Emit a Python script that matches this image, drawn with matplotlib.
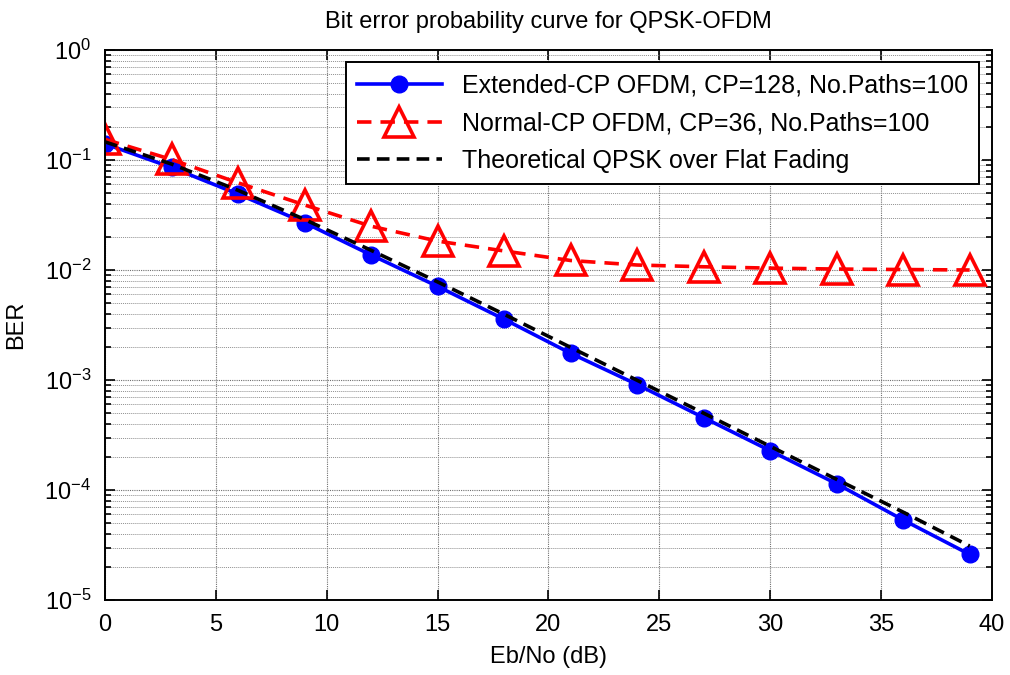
import numpy as np
import matplotlib
matplotlib.use("Agg")
import matplotlib.pyplot as plt
from matplotlib.ticker import LogLocator, MultipleLocator, NullFormatter

plt.rcParams['font.family'] = ['Liberation Sans', 'DejaVu Sans']
plt.rcParams['mathtext.default'] = 'regular'

# Eb/No points (dB)
ebNo = [0, 3, 6, 9, 12, 15, 18, 21, 24, 27, 30, 33, 36, 39]

# BER
berExt = [0.140, 0.0855, 0.049, 0.0269, 0.0137, 0.0071, 0.00357, 0.00175,
          0.00091, 0.000455, 0.000228, 0.000114, 5.35e-5, 2.6e-5]
berNor = [0.154, 0.101, 0.062, 0.039, 0.025, 0.0183, 0.0149, 0.0122,
          0.0111, 0.0107, 0.0104, 0.0102, 0.0101, 0.0100]
berTeo = [0.146, 0.0918, 0.053, 0.0288, 0.0151, 0.0078, 0.00396, 0.00198,
          0.000995, 0.0005, 0.00025, 0.000125, 6.3e-5, 3.1e-5]

labExt = 'Extended-CP OFDM, CP=128, No.Paths=100'
labNor = 'Normal-CP OFDM, CP=36, No.Paths=100'
labTeo = 'Theoretical QPSK over Flat Fading'

fig = plt.figure(figsize=(10.1, 6.75), dpi=100)
ax = fig.add_axes([0.104, 0.111, 0.878, 0.815])

ax.semilogy(ebNo, berExt, '-o', color='#0000ff', lw=2.6, ms=12, label=labExt)
ax.semilogy(ebNo, berNor, '--^', color='#ff0000', lw=2.6, ms=21, mew=2.6,
            mfc='none', dashes=(4, 2.5), label=labNor)
ax.semilogy(ebNo, berTeo, '--', color='black', lw=2.6, dashes=(3.5, 2),
            label=labTeo)

ax.set_xlim(0, 40)
ax.set_ylim(1e-5, 1)
ax.xaxis.set_major_locator(MultipleLocator(5))
ax.yaxis.set_major_locator(LogLocator(base=10, numticks=10))
ax.yaxis.set_minor_locator(LogLocator(base=10, subs=np.arange(2, 10), numticks=10))
ax.yaxis.set_minor_formatter(NullFormatter())

# estilo MATLAB
ax.grid(True, which='major', color='#707070', lw=0.8, ls=(0, (1, 1)))
ax.grid(True, which='minor', axis='y', color='#909090', lw=0.7, ls=(0, (1, 1)))
ax.tick_params(which='both', direction='in', top=True, right=True,
               labelsize=17, width=1.2)
ax.tick_params(which='major', length=7)
ax.tick_params(which='minor', length=4)
ax.tick_params(axis='x', pad=10)
ax.tick_params(axis='y', pad=10)
for s in ax.spines.values():
    s.set_linewidth(1.4)

ax.set_title('Bit error probability curve for QPSK-OFDM', fontsize=17, pad=16)
ax.set_xlabel('Eb/No (dB)', fontsize=17, labelpad=7)
ax.set_ylabel('BER', fontsize=17, labelpad=12)

leg = ax.legend(loc='upper right', fontsize=18, handlelength=3.4,
                fancybox=False, edgecolor='black', framealpha=1,
                borderaxespad=0.5, labelspacing=0.55, borderpad=0.45)
leg.get_frame().set_linewidth(1.4)

fig.savefig('out.png', dpi=100)
